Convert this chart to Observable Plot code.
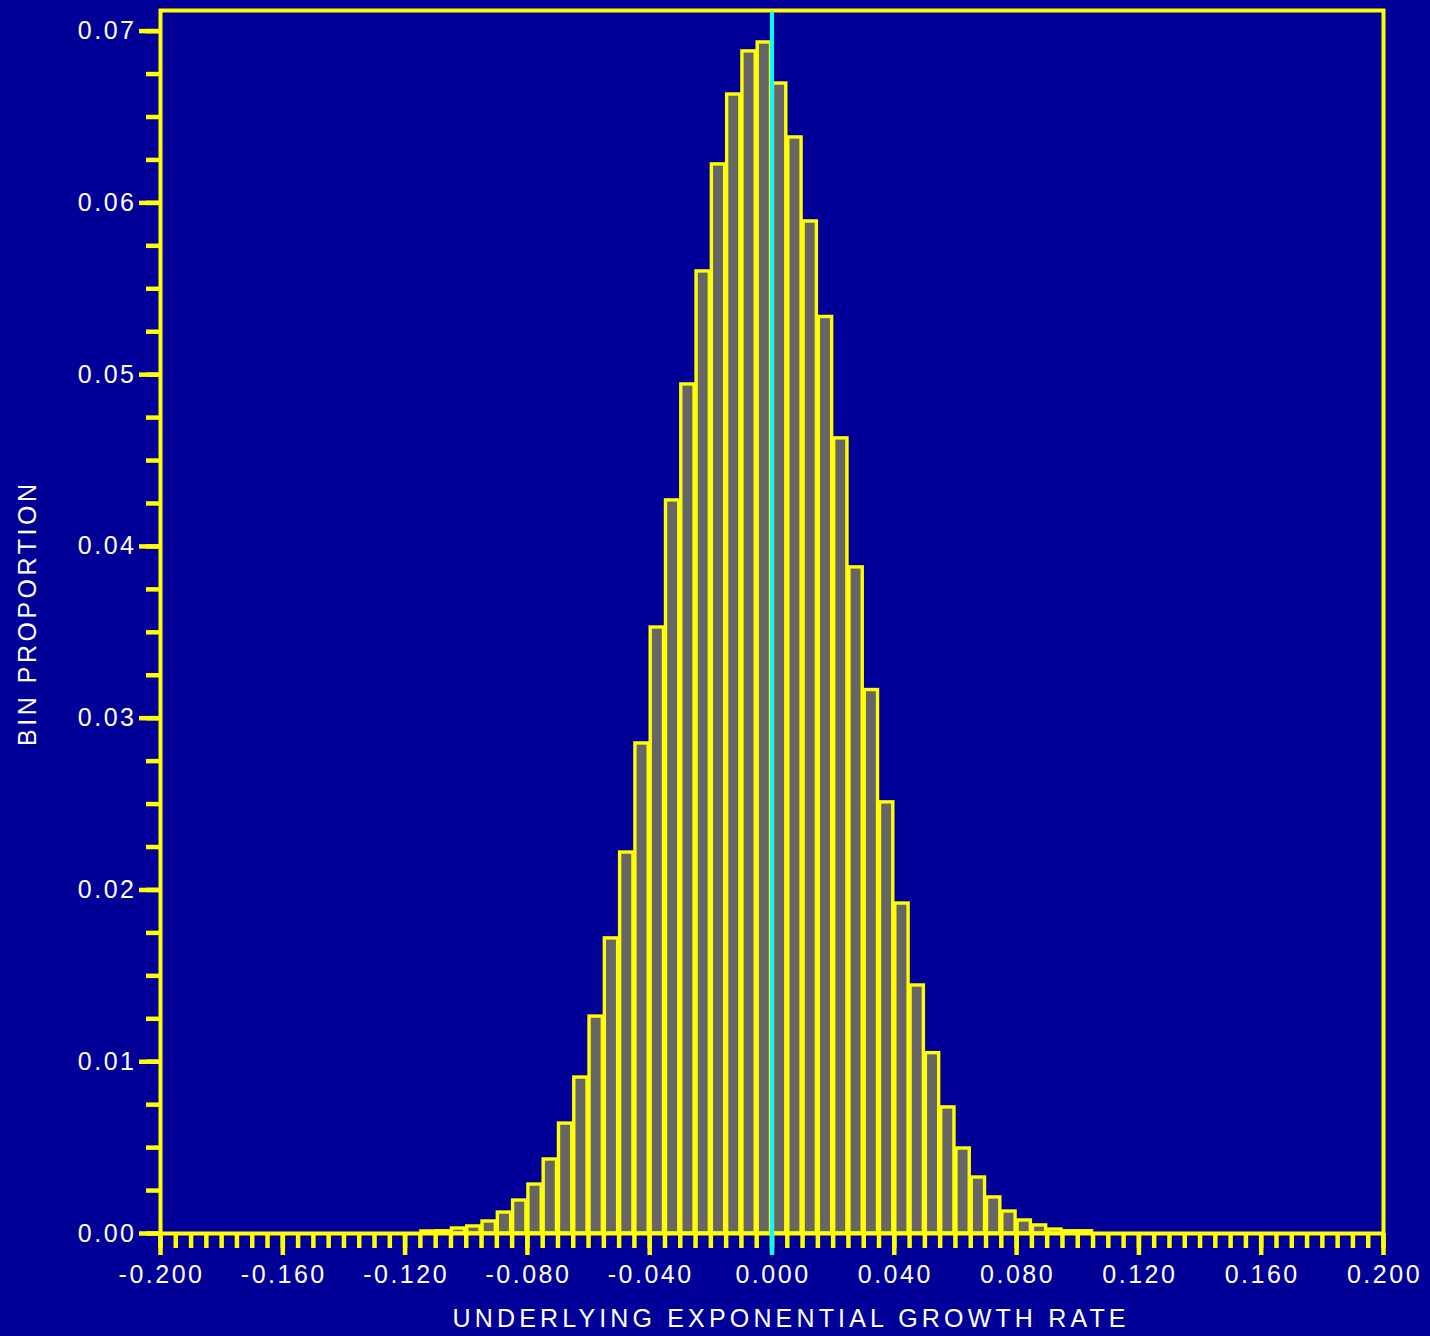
<!DOCTYPE html>
<html>
<head>
<meta charset="utf-8">
<script src="https://cdn.jsdelivr.net/npm/d3@7"></script>
<script src="https://cdn.jsdelivr.net/npm/@observablehq/plot@0.6"></script>
<style>
html, body { margin: 0; padding: 0; background: #000099; }
#chart svg { display: block; }
</style>
</head>
<body>
<div id="chart"></div>
<script>
// ---- data ----
const binStart = [
  -0.115, -0.110, -0.105, -0.100, -0.095, -0.090, -0.085, -0.080, -0.075, -0.070,
  -0.065, -0.060, -0.055, -0.050, -0.045, -0.040, -0.035, -0.030, -0.025, -0.020,
  -0.015, -0.010, -0.005, 0.000, 0.005, 0.010, 0.015, 0.020, 0.025, 0.030,
  0.035, 0.040, 0.045, 0.050, 0.055, 0.060, 0.065, 0.070, 0.075, 0.080,
  0.085, 0.090, 0.095, 0.100
];
const binProportion = [
  0.00012, 0.00013, 0.00029, 0.00041, 0.00070, 0.00122, 0.00192, 0.00285, 0.00431, 0.00640,
  0.00908, 0.01263, 0.01718, 0.02218, 0.02853, 0.03528, 0.04268, 0.04943, 0.05601, 0.06224,
  0.06631, 0.06882, 0.06934, 0.06695, 0.06381, 0.05892, 0.05336, 0.04629, 0.03878, 0.03164,
  0.02510, 0.01921, 0.01444, 0.01050, 0.00734, 0.00495, 0.00326, 0.00210, 0.00128, 0.00076,
  0.00047, 0.00023, 0.00013, 0.00013
];
const binWidth = 0.005;

const xMajorTicks = [-0.2, -0.16, -0.12, -0.08, -0.04, 0, 0.04, 0.08, 0.12, 0.16, 0.2];
const xTickLabels = ["-0.200", "-0.160", "-0.120", "-0.080", "-0.040", "0.000", "0.040", "0.080", "0.120", "0.160", "0.200"];
const xMinorTicks = d3.range(-40, 41).map(i => i * 0.005);

const yMajorTicks = [0, 0.01, 0.02, 0.03, 0.04, 0.05, 0.06, 0.07];
const yTickLabels = ["0.00", "0.01", "0.02", "0.03", "0.04", "0.05", "0.06", "0.07"];
const yMinorTicks = d3.range(0, 29).map(i => i * 0.0025);

const referenceLine = [0];
const xTitle = "UNDERLYING EXPONENTIAL GROWTH RATE";
const yTitle = "BIN PROPORTION";

// ---- table built from the arrays ----
const bins = binStart.map((b, i) => ({x1: b, x2: b + binWidth, y1: 0, y2: binProportion[i]}));

const YELLOW = "#ffff00", CYAN = "#00ffff", BG = "#000099", GRAY = "#666666";
const FONT = "'Liberation Sans', Arial, Helvetica, sans-serif";

const plot = Plot.plot({
  width: 1430,
  height: 1336,
  marginLeft: 160,
  marginRight: 47,
  marginTop: 10,
  marginBottom: 103,
  x: {domain: [-0.2, 0.2]},
  y: {domain: [0, 0.0712]},
  style: {background: BG, fontFamily: FONT, fontSize: "25px", letterSpacing: "2.5px", color: "white"},
  marks: [
    Plot.rect(bins, {x1: "x1", x2: "x2", y1: "y1", y2: "y2", fill: GRAY, stroke: YELLOW, strokeWidth: 3.4, insetLeft: 1, insetRight: 1}),
    Plot.frame({stroke: YELLOW, strokeWidth: 4}),
    Plot.axisX({ticks: xMinorTicks, tickSize: 15, stroke: YELLOW, strokeWidth: 4.5, fill: "none", label: null}),
    Plot.axisX({ticks: xMajorTicks, tickSize: 22, stroke: YELLOW, strokeWidth: 4.5, fill: "none", label: null}),
    Plot.axisY({ticks: yMinorTicks, tickSize: 14, stroke: YELLOW, strokeWidth: 4.5, fill: "none", label: null}),
    Plot.axisY({ticks: yMajorTicks, tickSize: 21, stroke: YELLOW, strokeWidth: 4.5, fill: "none", label: null}),
    Plot.ruleX(referenceLine, {stroke: CYAN, strokeWidth: 4, insetTop: 2, insetBottom: -22}),
    Plot.text(xMajorTicks, {x: d => d, text: (d, i) => xTickLabels[i], frameAnchor: "bottom", dy: 49, dx: 1, fill: "white", fontSize: 25}),
    Plot.text(yMajorTicks, {y: d => d, text: (d, i) => yTickLabels[i], frameAnchor: "left", dx: -24, textAnchor: "end", fill: "white", fontSize: 25}),
    Plot.text([xTitle], {frameAnchor: "bottom", textAnchor: "middle", dx: 17, dy: 93, fill: "white", fontSize: 25}),
    Plot.text([yTitle], {frameAnchor: "left", textAnchor: "middle", dx: -133, dy: -7, rotate: -90, fill: "white", fontSize: 25})
  ]
});

// stretch the two titles to the widths they have in the reference
d3.select(plot).selectAll("text").each(function() {
  const t = this.textContent;
  if (t === xTitle) d3.select(this).attr("textLength", 673).attr("lengthAdjust", "spacing").style("letter-spacing", "0px");
  if (t === yTitle) d3.select(this).attr("textLength", 262).attr("lengthAdjust", "spacing").style("letter-spacing", "0px");
});

document.getElementById("chart").appendChild(plot);
</script>
</body>
</html>
